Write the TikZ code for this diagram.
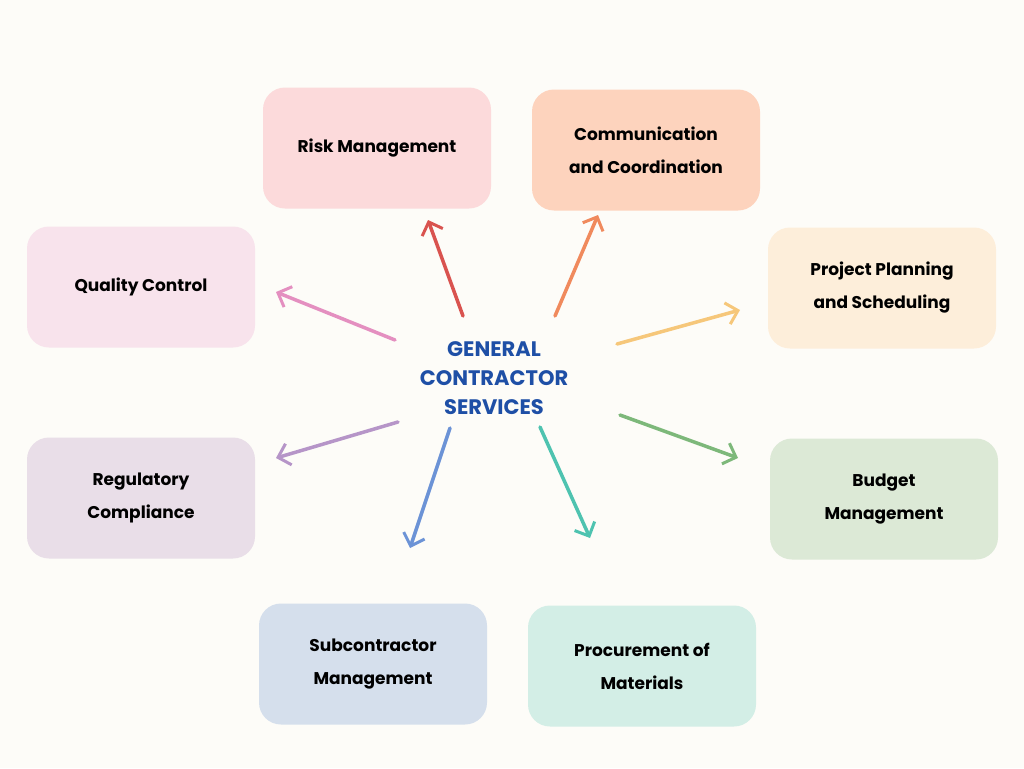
\documentclass[tikz,border=0pt]{standalone}
\usepackage{fontspec}
\setmainfont{Poppins}
\usetikzlibrary{arrows.meta}
\definecolor{bg}{HTML}{FDFCF8}
\definecolor{cRisk}{HTML}{FCDADB}
\definecolor{cComm}{HTML}{FDD3BD}
\definecolor{cPlan}{HTML}{FDEEDA}
\definecolor{cBud}{HTML}{DCE9D6}
\definecolor{cProc}{HTML}{D3EEE6}
\definecolor{cSub}{HTML}{D5DFEC}
\definecolor{cReg}{HTML}{E9DEE8}
\definecolor{cQual}{HTML}{F8E3EC}
\definecolor{aRed}{HTML}{D9534F}
\definecolor{aOra}{HTML}{F08A5D}
\definecolor{aYel}{HTML}{F6C77A}
\definecolor{aGre}{HTML}{7DB87A}
\definecolor{aTea}{HTML}{4EC3B0}
\definecolor{aBlu}{HTML}{6C93D6}
\definecolor{aPur}{HTML}{B695C8}
\definecolor{aPin}{HTML}{E48FC0}
\definecolor{ctext}{HTML}{1E4FA6}
\begin{document}
\begin{tikzpicture}[x=1pt,y=-1pt,
  box/.style={rounded corners=22pt,minimum width=228pt,minimum height=121pt,align=center,font=\fontsize{17}{33}\selectfont\bfseries,text=black},
  arr/.style={line width=3.5pt,line cap=round,-{Straight Barb[length=11pt,width=22pt,line width=3pt]}}]
\fill[bg] (0,0) rectangle (1024,768);
\useasboundingbox (0,0) rectangle (1024,768);
\node[box,fill=cRisk] (risk) at (377,148) {Risk Management};
\node[box,fill=cComm] (comm) at (646,150) {Communication\\and Coordination};
\node[box,fill=cPlan] (plan) at (882,288) {Project Planning\\and Scheduling};
\node[box,fill=cBud] (bud) at (884,499) {Budget\\Management};
\node[box,fill=cProc] (proc) at (642,666) {Procurement of\\Materials};
\node[box,fill=cSub] (sub) at (373,664) {Subcontractor\\Management};
\node[box,fill=cReg] (reg) at (141,498) {Regulatory\\Compliance};
\node[box,fill=cQual] (qual) at (141,287) {Quality Control};
\node[align=center,text=ctext,font=\fontsize{21}{29}\selectfont\bfseries] (c) at (494,378) {GENERAL\\CONTRACTOR\\SERVICES};
\coordinate (r0) at (463,316); \coordinate (r1) at (428,220);
\coordinate (o0) at (555,316); \coordinate (o1) at (598,215);
\coordinate (y0) at (617,344); \coordinate (y1) at (740,310);
\coordinate (g0) at (620,415); \coordinate (g1) at (738,458);
\coordinate (t0) at (540,427); \coordinate (t1) at (590,538);
\coordinate (b0) at (450,428); \coordinate (b1) at (410,548);
\coordinate (p0) at (398,422); \coordinate (p1) at (276,458);
\coordinate (k0) at (395,340); \coordinate (k1) at (276,292);
\draw[arr,aRed] (r0) -- (r1);
\draw[arr,aOra] (o0) -- (o1);
\draw[arr,aYel] (y0) -- (y1);
\draw[arr,aGre] (g0) -- (g1);
\draw[arr,aTea] (t0) -- (t1);
\draw[arr,aBlu] (b0) -- (b1);
\draw[arr,aPur] (p0) -- (p1);
\draw[arr,aPin] (k0) -- (k1);
\end{tikzpicture}
\end{document}
